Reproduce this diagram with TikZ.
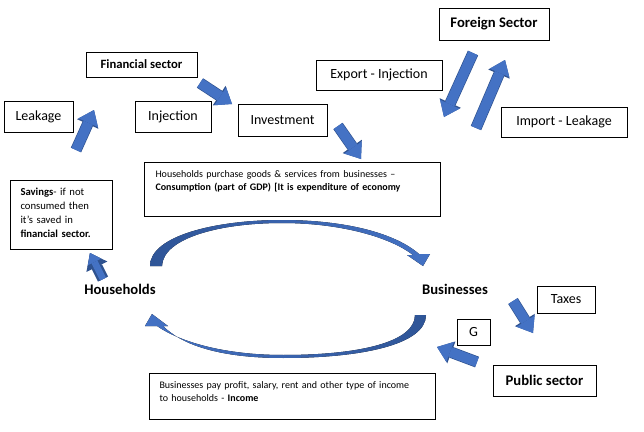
\documentclass[tikz,border=0pt]{standalone}
\usepackage{fontspec}
\setmainfont{Carlito}
\usetikzlibrary{arrows.meta}
\definecolor{arrowblue}{HTML}{4472C4}
\definecolor{arrowedge}{HTML}{2F528F}
\definecolor{arcdark}{HTML}{2F5597}
\begin{document}
\begin{tikzpicture}[x=0.75pt,y=-0.75pt,
  box/.style={draw,line width=0.75pt,inner sep=0pt,font=\fontsize{10.5}{12}\selectfont},
  boldbox/.style={box,font=\fontsize{11}{13}\selectfont\bfseries},
  notebox/.style={draw,line width=0.75pt,anchor=north west,align=left,inner xsep=7.5pt,inner ysep=5.75pt,text height=5.5pt,font=\fontsize{7.5}{10}\selectfont},
  sector/.style={font=\fontsize{11}{13}\selectfont\bfseries},
  fatarrow/.style={draw=arrowblue,line width=7.5pt,-{Triangle[width=16pt,length=10.5pt,line width=0pt]},
    preaction={draw=arrowedge,line width=8.5pt,-{Triangle[width=17.5pt,length=11.5pt,line width=0pt]}}},
  smallarrow/.style={fatarrow,line width=5pt,-{Triangle[width=11pt,length=7.5pt,line width=0pt]},
    preaction={draw=arrowedge,line width=6pt,-{Triangle[width=12.5pt,length=8.5pt,line width=0pt]}}}]
\useasboundingbox (0,0) rectangle (644,432);

\node[box,minimum width=51.75pt,minimum height=23.25pt] (leak) at (38.5,116.5) {Leakage};
\node[box,minimum width=83.25pt,minimum height=18.75pt,font=\fontsize{9.5}{11}\selectfont\bfseries] (fin) at (141.5,64.5) {Financial sector};
\node[box,minimum width=57pt,minimum height=23.25pt] (inj) at (173,116.5) {Injection};
\node[box,minimum width=66.75pt,minimum height=24pt] (inv) at (282.5,120) {Investment};
\node[notebox,text width=61.5pt,inner ysep=5.5pt,text height=5.75pt,text depth=35pt,font=\fontsize{8}{10.5}\selectfont] (sav) at (10,180)
  {\textbf{Savings}- if not\\consumed then\\it's saved in\\\textbf{financial sector.}};
\node[notebox,inner xsep=8.25pt,text width=205.5pt,text depth=23.5pt] (cons) at (144,162)
  {Households purchase goods \& services from businesses --\\\textbf{Consumption (part of GDP) [It is expenditure of economy}};
\node[boldbox,minimum width=82.5pt,minimum height=24pt] (fore) at (494,24) {Foreign Sector};
\node[box,minimum width=94.5pt,minimum height=22.5pt] (exp) at (379,75) {Export - Injection};
\node[box,minimum width=94.5pt,minimum height=22.5pt] (imp) at (564,122) {Import - Leakage};
\node[box,minimum width=43.5pt,minimum height=20.25pt] (tax) at (566,299.5) {Taxes};
\node[box,minimum width=24.75pt,minimum height=19.5pt] (g) at (473.5,332) {G};
\node[boldbox,minimum width=77.25pt,minimum height=23.25pt] (pub) at (544.5,380.5) {Public sector};
\node[notebox,text width=199.5pt,text depth=17.5pt] (inc) at (149,373)
  {Businesses pay profit, salary, rent and other type of income\\to households - \textbf{Income}};
\node[sector] (hh) at (120,289) {Households};
\node[sector] (bus) at (455,289) {Businesses};

\coordinate (savT) at (103,279);
\coordinate (savH) at (90,253);
\coordinate (leakT) at (76,150);
\coordinate (leakH) at (94,110);
\coordinate (finT) at (200,83);
\coordinate (finH) at (232,104);
\coordinate (invT) at (338,126);
\coordinate (invH) at (361,159);
\coordinate (expT) at (473,53);
\coordinate (expH) at (444,117);
\coordinate (impT) at (476,128);
\coordinate (impH) at (505,60);
\coordinate (taxT) at (513,301);
\coordinate (taxH) at (533,333);
\coordinate (gT) at (477,362);
\coordinate (gH) at (437,347);

\draw[smallarrow] (savT) -- (savH);
\draw[fatarrow] (leakT) -- (leakH);
\draw[fatarrow] (finT) -- (finH);
\draw[fatarrow] (invT) -- (invH);
\draw[fatarrow] (expT) -- (expH);
\draw[fatarrow] (impT) -- (impH);
\draw[fatarrow] (taxT) -- (taxH);
\draw[fatarrow] (gT) -- (gH);

\fill[left color=arcdark,right color=arrowblue]
  (150,266) .. controls (150,236) and (215,220) .. (282,220)
  .. controls (345,220) and (395,233) .. (419,254)
  -- (430,254) -- (423,266) -- (407,255) -- (413,255)
  .. controls (390,237) and (340,223) .. (282,223)
  .. controls (220,223) and (163,238) .. (162,266) -- cycle;
\fill[left color=arrowblue,right color=arcdark]
  (426,315) .. controls (426,345) and (360,358) .. (283,358)
  .. controls (220,358) and (182,345) .. (163,326)
  -- (168,326) -- (152,314) -- (145,326) -- (157,326)
  .. controls (180,342) and (225,355) .. (283,355)
  .. controls (360,355) and (415,342) .. (415,315) -- cycle;
\end{tikzpicture}
\end{document}
